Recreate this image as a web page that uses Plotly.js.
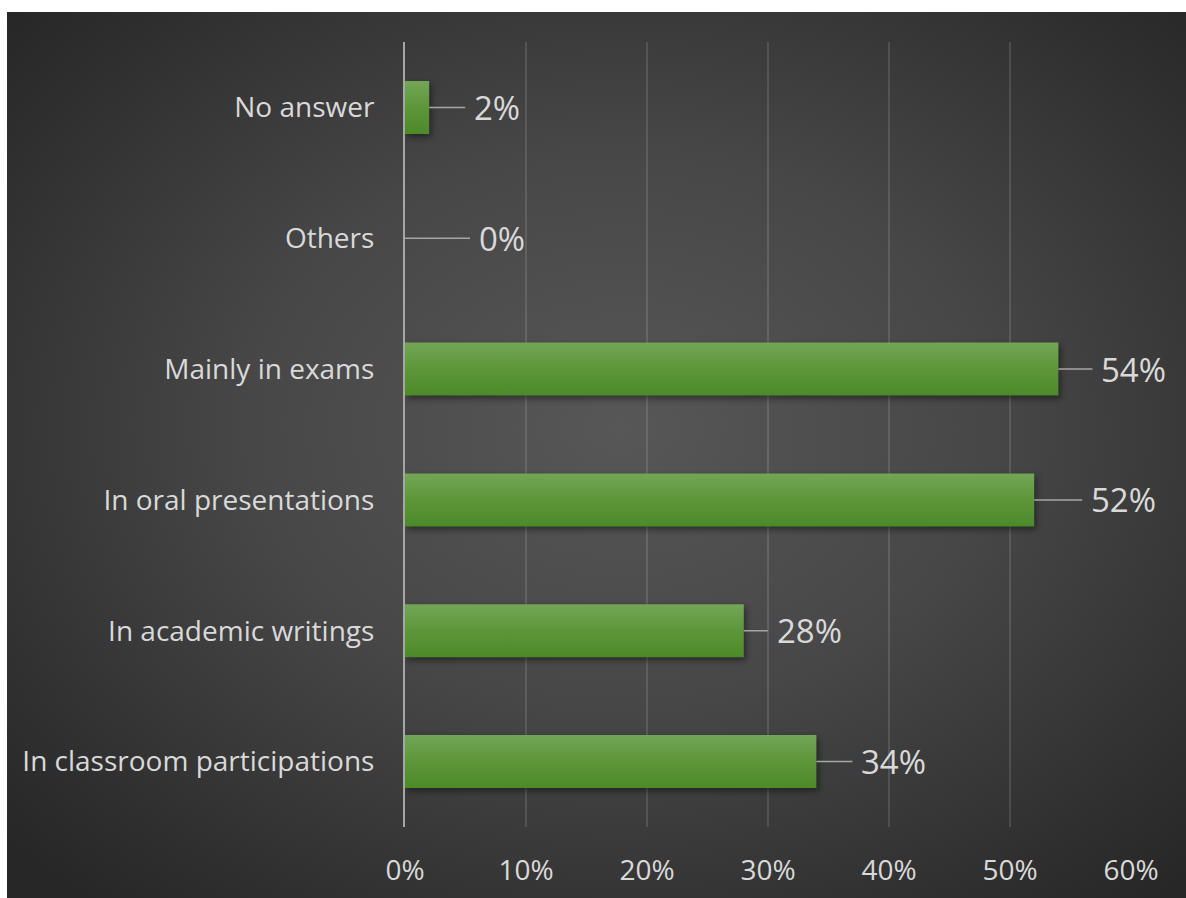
<!DOCTYPE html>
<html>
<head>
<meta charset="utf-8">
<script src="https://cdn.plot.ly/plotly-3.0.1.min.js"></script>
<style>
  html, body { margin: 0; padding: 0; background: #ffffff; width: 1186px; height: 898px; overflow: hidden; }
  #chart {
    position: absolute; left: 7px; top: 12px; width: 1179px; height: 886px;
    background: radial-gradient(ellipse 70% 70% at 52% 47%, #575757 0%, #474747 45%, #2f2f2f 85%, #272727 100%);
  }
  #chart .barlayer .point path { filter: drop-shadow(2px 3px 3px rgba(0,0,0,0.45)); }
</style>
</head>
<body>
<div id="chart"></div>
<script>
// Data
const categories = [
  "In classroom participations",
  "In academic writings",
  "In oral presentations",
  "Mainly in exams",
  "Others",
  "No answer"
];
const values = [0.34, 0.28, 0.52, 0.54, 0.00, 0.02];
const valueLabels = ["34%", "28%", "52%", "54%", "0%", "2%"];
const xTickValues = [0, 0.1, 0.2, 0.3, 0.4, 0.5, 0.6];
const xTickLabels = ["0%", "10%", "20%", "30%", "40%", "50%", "60%"];

// Style: leader-line lengths (px) for each label
const leaderLengths = [36, 24, 48, 34, 65, 36];

const textColor = "#d9d9d9";
const fontFamily = "'Open Sans', Lato, sans-serif";

const trace = {
  type: "bar",
  orientation: "h",
  y: categories,
  x: values,
  marker: { color: "#5b9639", line: { width: 0 } },
  hoverinfo: "skip"
};

const annotations = categories.map((c, i) => ({
  x: values[i],
  y: c,
  xref: "x",
  yref: "y",
  text: valueLabels[i],
  showarrow: true,
  arrowhead: 0,
  arrowwidth: 1.5,
  arrowcolor: "#a6a6a6",
  ax: leaderLengths[i],
  ay: 0,
  xanchor: "left",
  yanchor: "middle",
  font: { family: fontFamily, size: 33, color: textColor },
  borderpad: 8
}));

const layout = {
  width: 1179,
  height: 886,
  margin: { l: 398, r: 55, t: 30, b: 71 },
  paper_bgcolor: "rgba(0,0,0,0)",
  plot_bgcolor: "rgba(0,0,0,0)",
  showlegend: false,
  bargap: 0.595,
  font: { family: fontFamily, color: textColor },
  xaxis: {
    range: [0, 0.6],
    tickvals: xTickValues,
    ticktext: xTickLabels,
    showgrid: true,
    gridcolor: "rgba(255,255,255,0.12)",
    gridwidth: 1.2,
    zeroline: false,
    showline: false,
    ticks: "outside",
    ticklen: 18,
    tickcolor: "rgba(0,0,0,0)",
    tickfont: { family: fontFamily, size: 28, color: textColor },
    fixedrange: true
  },
  yaxis: {
    type: "category",
    categoryorder: "array",
    categoryarray: categories,
    showgrid: false,
    zeroline: false,
    showline: true,
    linecolor: "#a6a6a6",
    linewidth: 2,
    ticks: "outside",
    ticklen: 23,
    tickcolor: "rgba(0,0,0,0)",
    tickfont: { family: fontFamily, size: 28, color: textColor },
    fixedrange: true
  },
  annotations: annotations
};

Plotly.newPlot("chart", [trace], layout, { displayModeBar: false, staticPlot: true }).then(gd => {
  const svg = gd.querySelector("svg.main-svg");
  const ns = "http://www.w3.org/2000/svg";
  let defs = svg.querySelector("defs");
  if (!defs) { defs = document.createElementNS(ns, "defs"); svg.insertBefore(defs, svg.firstChild); }
  const grad = document.createElementNS(ns, "linearGradient");
  grad.setAttribute("id", "barGrad");
  grad.setAttribute("x1", "0"); grad.setAttribute("y1", "0");
  grad.setAttribute("x2", "0"); grad.setAttribute("y2", "1");
  [["0%", "#72a657"], ["50%", "#5d9639"], ["100%", "#4c8a29"]].forEach(([o, c]) => {
    const s = document.createElementNS(ns, "stop");
    s.setAttribute("offset", o); s.setAttribute("stop-color", c);
    grad.appendChild(s);
  });
  defs.appendChild(grad);
  gd.querySelectorAll(".barlayer .point path").forEach(p => {
    p.style.fill = "url(#barGrad)";
  });
});
</script>
</body>
</html>
